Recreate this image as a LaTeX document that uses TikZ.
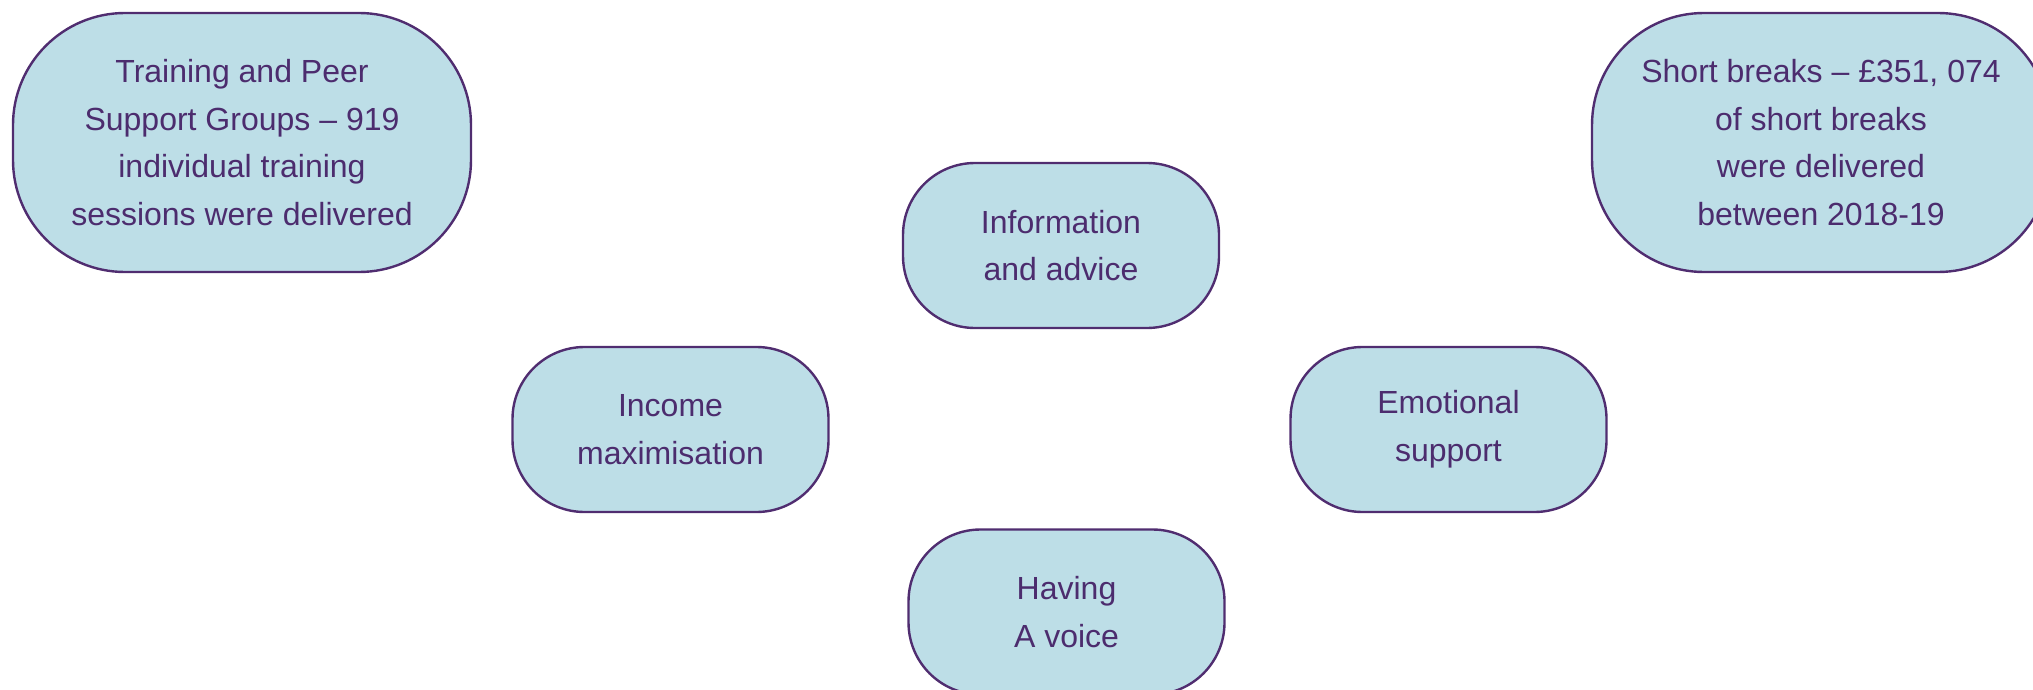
\documentclass[tikz,border=0pt]{standalone}
\usepackage{fontspec}
\setmainfont{Liberation Sans}
\usepackage{tikz}
\usetikzlibrary{positioning}
\usepackage{xcolor}
\definecolor{boxfill}{RGB}{189,222,231}
\definecolor{boxline}{RGB}{80,45,112}
\definecolor{boxtext}{RGB}{76,44,110}

\begin{document}
\begin{tikzpicture}[
		every node/.style={align=center, text=boxtext, font=\fontsize{16pt}{23.8pt}\selectfont},
		bigbox/.style={draw=boxline, fill=boxfill, line width=1.2pt, rounded corners=56pt,
			minimum width=229pt, minimum height=129.5pt, inner sep=0pt},
		smallbox/.style={draw=boxline, fill=boxfill, line width=1.2pt, rounded corners=36pt,
			minimum width=158pt, minimum height=82.5pt, inner sep=0pt}]
		\useasboundingbox (0pt,0pt) rectangle (1016.5pt,-345pt);
		\draw (121pt,-71.25pt) node[bigbox] (train) {Training and Peer\\Support Groups – 919\\individual training\\sessions were delivered}
		(910.5pt,-71.25pt) node[bigbox] (breaks) {Short breaks – £351, 074\\of short breaks\\were delivered\\between 2018-19}
		(530.5pt,-122.75pt) node[smallbox] (info) {Information\\and advice}
		(335.25pt,-214.75pt) node[smallbox] (income) {Income\\maximisation}
		(724.25pt,-214.75pt) node[smallbox] (emotion) {Emotional\\support}
		(533.25pt,-306pt) node[smallbox] (voice) {Having\\A voice};
	\end{tikzpicture}
\end{document}
